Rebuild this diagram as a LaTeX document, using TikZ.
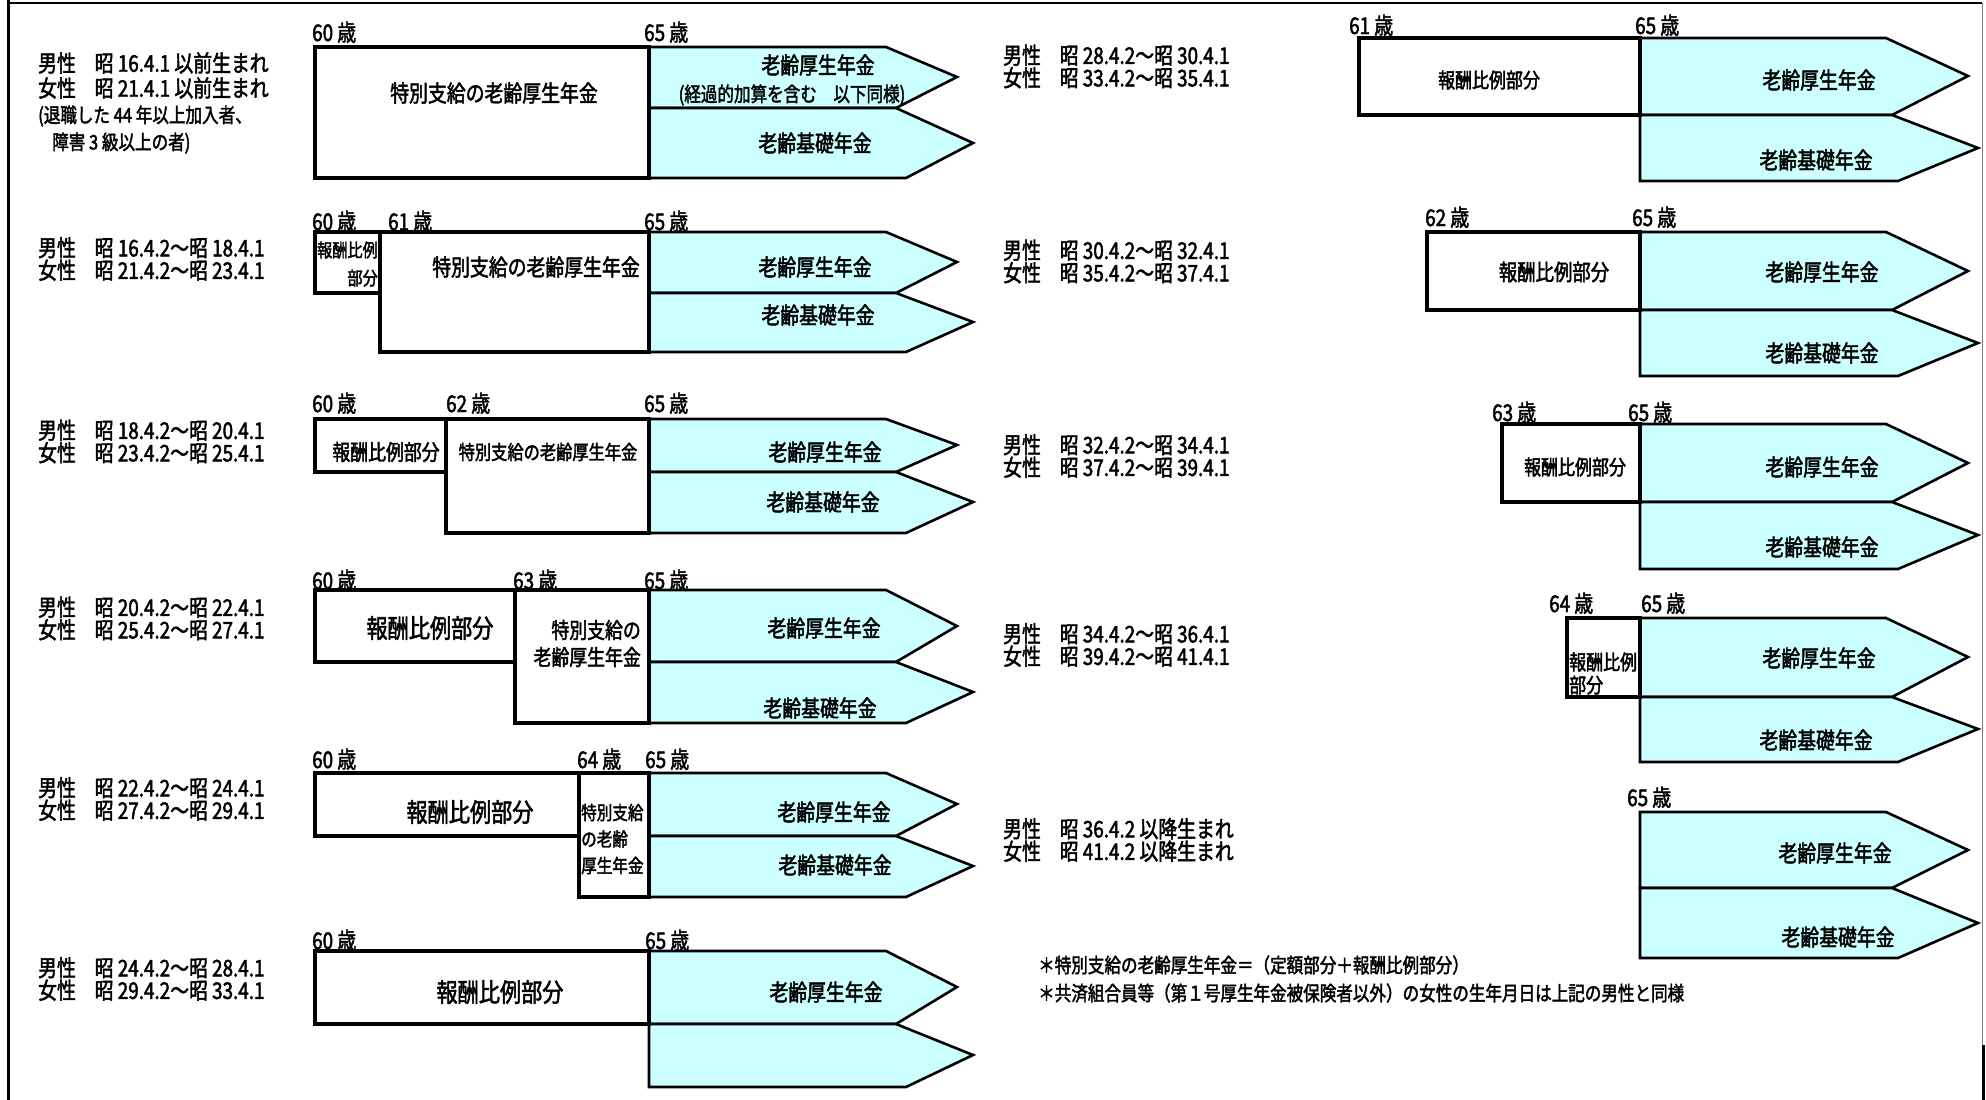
\documentclass[tikz,border=0pt]{standalone}
\usepackage{fontspec}
\setmainfont[FakeStretch=0.82,FakeBold=2]{Noto Sans CJK JP}
\usepackage{tikz}
\definecolor{nenkinblue}{RGB}{204,255,255}

\begin{document}
\begin{tikzpicture}[x=1pt,y=-1pt,line join=miter]
  \tikzstyle{kikan}=[draw=black,line width=3.2pt,fill=white]
  \tikzstyle{nenkin}=[draw=black,line width=2.6pt,fill=nenkinblue]
  \tikzstyle{sai}=[anchor=base west,inner sep=0pt,
                   font=\fontsize{23}{24}\selectfont]
  \tikzstyle{seinen}=[anchor=west,inner sep=0pt,align=left,
                   font=\fontsize{23}{22.5}\selectfont]
  \tikzstyle{moji}=[inner sep=0pt,font=\fontsize{23}{24}\selectfont]
  \tikzstyle{moji_big}=[inner sep=0pt,font=\fontsize{25.8}{26}\selectfont]
  \tikzstyle{moji_mid}=[inner sep=0pt,font=\fontsize{20.7}{23}\selectfont]
  \tikzstyle{moji_small}=[inner sep=0pt,font=\fontsize{19}{26.5}\selectfont]
  \useasboundingbox (0,0) rectangle (1986,1100);
  %Marco
  \draw[line width=3pt] (8,0) -- (8,1100);
  \draw[line width=1.2pt] (8,3) -- (1982,3);
  \draw[gray,line width=1pt] (1982,3) -- (1982,1100);
  \draw[line width=3pt] (1983,1045) -- (1983,1100);

  %Flechas izquierda
  \draw[nenkin] (649,47) -- (886,47) -- (957,77) -- (896,108) -- (649,108) -- cycle;
  \draw[nenkin] (649,108) -- (896,108) -- (973,143) -- (906,178) -- (649,178) -- cycle;
  \draw[nenkin] (649,232) -- (886,232) -- (957,262) -- (896,293) -- (649,293) -- cycle;
  \draw[nenkin] (649,293) -- (896,293) -- (973,322) -- (906,352) -- (649,352) -- cycle;
  \draw[nenkin] (649,419) -- (886,419) -- (957,445) -- (896,472) -- (649,472) -- cycle;
  \draw[nenkin] (649,472) -- (896,472) -- (973,502) -- (906,533) -- (649,533) -- cycle;
  \draw[nenkin] (649,590) -- (886,590) -- (957,626) -- (896,662) -- (649,662) -- cycle;
  \draw[nenkin] (649,662) -- (896,662) -- (973,692) -- (906,723) -- (649,723) -- cycle;
  \draw[nenkin] (649,773) -- (886,773) -- (957,804) -- (896,836) -- (649,836) -- cycle;
  \draw[nenkin] (649,836) -- (896,836) -- (973,866) -- (906,897) -- (649,897) -- cycle;
  \draw[nenkin] (649,951) -- (886,951) -- (957,987) -- (896,1024) -- (649,1024) -- cycle;
  \draw[nenkin] (649,1024) -- (896,1024) -- (973,1055) -- (906,1087) -- (649,1087) -- cycle;
  %Flechas derecha
  \draw[nenkin] (1640,38) -- (1886,38) -- (1968,76) -- (1892,115) -- (1640,115) -- cycle;
  \draw[nenkin] (1640,115) -- (1892,115) -- (1978,148) -- (1898,181) -- (1640,181) -- cycle;
  \draw[nenkin] (1640,232) -- (1886,232) -- (1968,271) -- (1892,310) -- (1640,310) -- cycle;
  \draw[nenkin] (1640,310) -- (1892,310) -- (1978,343) -- (1898,376) -- (1640,376) -- cycle;
  \draw[nenkin] (1640,424) -- (1886,424) -- (1968,463) -- (1892,502) -- (1640,502) -- cycle;
  \draw[nenkin] (1640,502) -- (1892,502) -- (1978,535) -- (1898,569) -- (1640,569) -- cycle;
  \draw[nenkin] (1640,618) -- (1886,618) -- (1968,657) -- (1892,697) -- (1640,697) -- cycle;
  \draw[nenkin] (1640,697) -- (1892,697) -- (1978,729) -- (1898,762) -- (1640,762) -- cycle;
  \draw[nenkin] (1640,812) -- (1886,812) -- (1968,850) -- (1892,888) -- (1640,888) -- cycle;
  \draw[nenkin] (1640,888) -- (1892,888) -- (1978,923) -- (1898,958) -- (1640,958) -- cycle;

  %Cajas izquierda
  \draw[kikan] (315,47) rectangle (649,178);
  \draw[kikan] (315,232) rectangle (380,293);
  \draw[kikan] (380,232) rectangle (649,352);
  \draw[kikan] (315,419) rectangle (446,472);
  \draw[kikan] (446,419) rectangle (649,533);
  \draw[kikan] (315,590) rectangle (515,662);
  \draw[kikan] (515,590) rectangle (649,723);
  \draw[kikan] (315,773) rectangle (579,836);
  \draw[kikan] (579,773) rectangle (649,897);
  \draw[kikan] (315,951) rectangle (649,1024);
  %Cajas derecha
  \draw[kikan] (1359,38) rectangle (1640,115);
  \draw[kikan] (1427,232) rectangle (1640,310);
  \draw[kikan] (1502,424) rectangle (1640,502);
  \draw[kikan] (1567,618) rectangle (1640,697);

  %Edades
  \node[sai] (L1a60) at (312,41) {60 歳};
  \node[sai] (L1a65) at (644,41) {65 歳};
  \node[sai] (L2a60) at (312,230) {60 歳};
  \node[sai] (L2a61) at (388,230) {61 歳};
  \node[sai] (L2a65) at (644,230) {65 歳};
  \node[sai] (L3a60) at (312,412) {60 歳};
  \node[sai] (L3a62) at (446,412) {62 歳};
  \node[sai] (L3a65) at (644,412) {65 歳};
  \node[sai] (L4a60) at (312,589) {60 歳};
  \node[sai] (L4a63) at (513,589) {63 歳};
  \node[sai] (L4a65) at (644,589) {65 歳};
  \node[sai] (L5a60) at (312,768) {60 歳};
  \node[sai] (L5a64) at (577,768) {64 歳};
  \node[sai] (L5a65) at (645,768) {65 歳};
  \node[sai] (L6a60) at (312,949) {60 歳};
  \node[sai] (L6a65) at (645,949) {65 歳};
  \node[sai] (R1a61) at (1349,34) {61 歳};
  \node[sai] (R1a65) at (1635,34) {65 歳};
  \node[sai] (R2a62) at (1425,226) {62 歳};
  \node[sai] (R2a65) at (1632,226) {65 歳};
  \node[sai] (R3a63) at (1492,421) {63 歳};
  \node[sai] (R3a65) at (1628,421) {65 歳};
  \node[sai] (R4a64) at (1549,612) {64 歳};
  \node[sai] (R4a65) at (1641,612) {65 歳};
  \node[sai] (R5a65) at (1627,806) {65 歳};

  %Nacimiento
  \node[seinen,font=\fontsize{23}{25}\selectfont] (L1lab) at (38,75.5)
    {男性　昭 16.4.1 以前生まれ\\女性　昭 21.4.1 以前生まれ};
  \node[seinen,font=\fontsize{20.2}{27}\selectfont] (L1note) at (38,129.5)
    {(退職した 44 年以上加入者、\\\hspace*{14pt}障害 3 級以上の者)};
  \node[seinen] (L2lab) at (38,259) {男性　昭 16.4.2～昭 18.4.1\\女性　昭 21.4.2～昭 23.4.1};
  \node[seinen] (L3lab) at (38,441.5) {男性　昭 18.4.2～昭 20.4.1\\女性　昭 23.4.2～昭 25.4.1};
  \node[seinen] (L4lab) at (38,618.5) {男性　昭 20.4.2～昭 22.4.1\\女性　昭 25.4.2～昭 27.4.1};
  \node[seinen] (L5lab) at (38,799) {男性　昭 22.4.2～昭 24.4.1\\女性　昭 27.4.2～昭 29.4.1};
  \node[seinen] (L6lab) at (38,979) {男性　昭 24.4.2～昭 28.4.1\\女性　昭 29.4.2～昭 33.4.1};
  \node[seinen] (R1lab) at (1003,66.5) {男性　昭 28.4.2～昭 30.4.1\\女性　昭 33.4.2～昭 35.4.1};
  \node[seinen] (R2lab) at (1003,261.5) {男性　昭 30.4.2～昭 32.4.1\\女性　昭 35.4.2～昭 37.4.1};
  \node[seinen] (R3lab) at (1003,456) {男性　昭 32.4.2～昭 34.4.1\\女性　昭 37.4.2～昭 39.4.1};
  \node[seinen] (R4lab) at (1003,645) {男性　昭 34.4.2～昭 36.4.1\\女性　昭 39.4.2～昭 41.4.1};
  \node[seinen] (R5lab) at (1003,840) {男性　昭 36.4.2 以降生まれ\\女性　昭 41.4.2 以降生まれ};

  %Textos cajas
  \node[moji] (L1tok) at (494,93) {特別支給の老齢厚生年金};
  \node[moji_small,anchor=east,align=right,font=\fontsize{18.5}{28}\selectfont] (L2hou) at (378,264) {報酬比例\\部分};
  \node[moji] (L2tok) at (536,267) {特別支給の老齢厚生年金};
  \node[moji,font=\fontsize{21.8}{24}\selectfont] (L3hou) at (386,452) {報酬比例部分};
  \node[moji,font=\fontsize{19.8}{24}\selectfont] (L3tok) at (548,452) {特別支給の老齢厚生年金};
  \node[moji_big] (L4hou) at (430,628) {報酬比例部分};
  \node[moji,anchor=east,align=right,font=\fontsize{21.8}{27}\selectfont] (L4tok) at (641,643.5) {特別支給の\\老齢厚生年金};
  \node[moji_big] (L5hou) at (470,812) {報酬比例部分};
  \node[moji_small,anchor=west,align=left] (L5tok) at (581,839) {特別支給\\の老齢\\厚生年金};
  \node[moji_big] (L6hou) at (500,992) {報酬比例部分};
  \node[moji_mid] (R1hou) at (1489,80) {報酬比例部分};
  \node[moji,font=\fontsize{22.4}{24}\selectfont] (R2hou) at (1554,272) {報酬比例部分};
  \node[moji_mid] (R3hou) at (1575,467) {報酬比例部分};
  \node[moji_mid,anchor=west,align=left] (R4hou) at (1569,673.5) {報酬比例\\部分};

  %Textos flechas
  \node[moji] (L1kou) at (818,65) {老齢厚生年金};
  \node[moji,font=\fontsize{20.2}{22}\selectfont] (L1kei) at (792,95) {(経過的加算を含む　以下同様)};
  \node[moji] (L1kis) at (815,143) {老齢基礎年金};
  \node[moji] (L2kou) at (815,267) {老齢厚生年金};
  \node[moji] (L2kis) at (818,315) {老齢基礎年金};
  \node[moji] (L3kou) at (825,452) {老齢厚生年金};
  \node[moji] (L3kis) at (823,502) {老齢基礎年金};
  \node[moji] (L4kou) at (824,628) {老齢厚生年金};
  \node[moji] (L4kis) at (820,708) {老齢基礎年金};
  \node[moji] (L5kou) at (834,812) {老齢厚生年金};
  \node[moji] (L5kis) at (835,865) {老齢基礎年金};
  \node[moji] (L6kou) at (826,992) {老齢厚生年金};
  \node[moji] (R1kou) at (1819,80) {老齢厚生年金};
  \node[moji] (R1kis) at (1816,160) {老齢基礎年金};
  \node[moji] (R2kou) at (1822,272) {老齢厚生年金};
  \node[moji] (R2kis) at (1822,353) {老齢基礎年金};
  \node[moji] (R3kou) at (1822,467) {老齢厚生年金};
  \node[moji] (R3kis) at (1822,547) {老齢基礎年金};
  \node[moji] (R4kou) at (1819,658) {老齢厚生年金};
  \node[moji] (R4kis) at (1816,740) {老齢基礎年金};
  \node[moji] (R5kou) at (1835,853) {老齢厚生年金};
  \node[moji] (R5kis) at (1838,937) {老齢基礎年金};

  %Notas
  \node[seinen,font=\fontsize{20.2}{28}\selectfont] (nota) at (1038,979)
    {＊特別支給の老齢厚生年金＝（定額部分＋報酬比例部分）\\＊共済組合員等（第１号厚生年金被保険者以外）の女性の生年月日は上記の男性と同様};
\end{tikzpicture}
\end{document}
